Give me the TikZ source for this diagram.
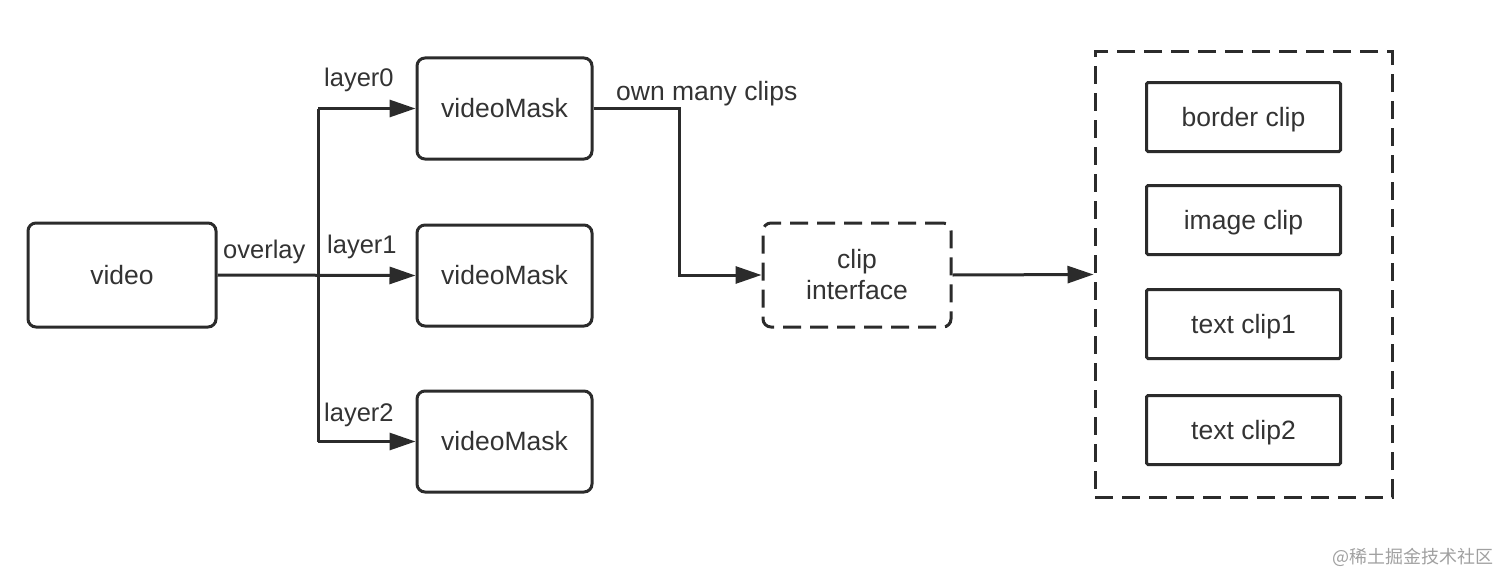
\documentclass[tikz,border=0pt]{standalone}
\usepackage{fontspec}
\setmainfont{Liberation Sans}
\newfontfamily\cjk{Noto Sans CJK SC}
\usetikzlibrary{arrows.meta,positioning}
\definecolor{ink}{HTML}{2B2B2B}
\definecolor{txt}{HTML}{333333}
\definecolor{wm}{HTML}{A0A0A0}
\begin{document}
\begin{tikzpicture}[x=1pt,y=-1pt,
  box/.style={draw=ink,line width=3pt,rounded corners=8pt,text=txt,
    font=\fontsize{26.5}{31}\selectfont,align=center,inner sep=0pt},
  clipbox/.style={draw=ink,line width=3pt,rounded corners=1.5pt,text=txt,
    font=\fontsize{26.5}{31}\selectfont,inner sep=0pt,text depth=0pt,minimum width=194pt,minimum height=69pt},
  conn/.style={draw=ink,line width=3pt},
  arr/.style={conn,-{Triangle[length=26pt,width=17pt]}},
  lbl/.style={text=txt,font=\fontsize{25.5}{29}\selectfont,inner sep=0pt}]
\useasboundingbox (0,0) rectangle (1512,586);
% nodes
\node[box,minimum width=188pt,minimum height=104pt] (video) at (122,275) {video};
\node[box,minimum width=175pt,minimum height=101pt] (vm0) at (504.5,108.5) {videoMask};
\node[box,minimum width=175pt,minimum height=101pt] (vm1) at (504.5,275.5) {videoMask};
\node[box,minimum width=175pt,minimum height=101pt] (vm2) at (504.5,441.5) {videoMask};
\node[box,dashed,dash pattern=on 18pt off 9pt,minimum width=188pt,minimum height=104pt] (ci) at (857,275) {clip\\interface};
\node[draw=ink,line width=3pt,dash pattern=on 18pt off 9pt,minimum width=297pt,minimum height=445pt,inner sep=0pt] (grp) at (1243.5,274.5) {};
\node[clipbox] (c1) at (1243.5,117) {border clip};
\node[clipbox] (c2) at (1243.5,220) {image clip};
\node[clipbox] (c3) at (1243.5,324) {text clip1};
\node[clipbox] (c4) at (1243.5,430) {text clip2};
% connectors
\coordinate (jt) at (318,108.5);
\coordinate (jb) at (318,441.5);
\coordinate (bend) at (679,108.5);
\draw[conn] (jt) -- (jb);
\draw[arr] (video.east) -- (vm1.west);
\draw[arr] (jt) -- (vm0.west);
\draw[arr] (jb) -- (vm2.west);
\draw[arr] (vm0.east) -- (bend) |- (ci.west);
\draw[arr] (ci.east) -- (grp.west);
% labels
\node[lbl,anchor=base west] (lov) at (223,258) {overlay};
\node[lbl,anchor=base west] (l0) at (324,86) {layer0};
\node[lbl,anchor=base west] (l1) at (327,253) {layer1};
\node[lbl,anchor=base west] (l2) at (324,421) {layer2};
\node[lbl,anchor=base west,font=\fontsize{26.5}{29}\selectfont] (lown) at (616,100) {own many clips};
\node[text=wm,font=\cjk\fontsize{18}{21}\selectfont,inner sep=0pt,anchor=east] (wmk) at (1494,557) {@稀土掘金技术社区};
\end{tikzpicture}
\end{document}
